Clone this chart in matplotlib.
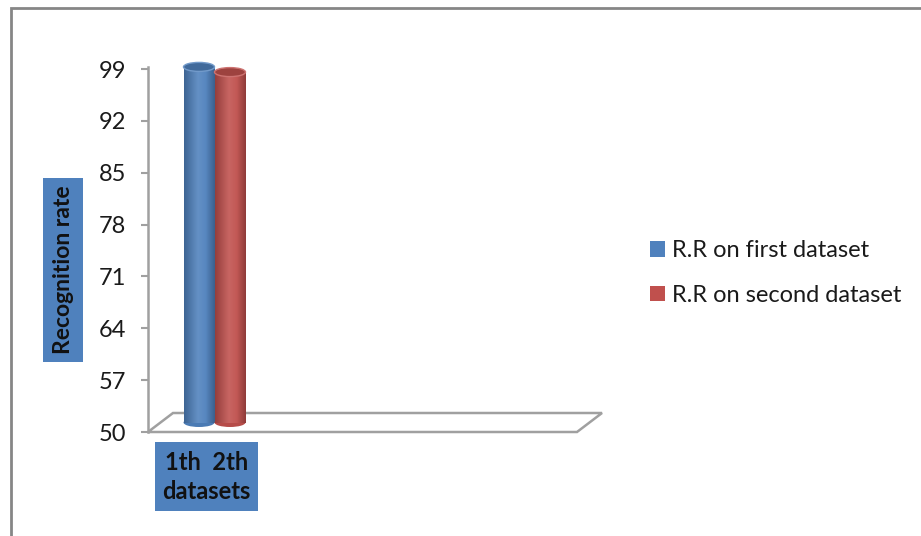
import numpy as np
import matplotlib
matplotlib.use("Agg")
import matplotlib.pyplot as plt
from matplotlib.patches import Rectangle, Ellipse, Polygon
from matplotlib import transforms
from matplotlib.colors import LinearSegmentedColormap

# ---- data ----
series_labels = ["R.R on first dataset", "R.R on second dataset"]
series_values = [98.0, 97.3]
series_colors = ["#4F81BD", "#C0504D"]
y_ticks = [50, 57, 64, 71, 78, 85, 92, 99]
x_title = "1th  2th\ndatasets"
y_title = "Recognition rate"

W, H = 921, 536
DPI = 100
plt.rcParams['font.family'] = ['Lato', 'DejaVu Sans']
fig = plt.figure(figsize=(W / DPI, H / DPI), dpi=DPI)

def fx(px):
    return px / W

def fy(py):
    return 1 - py / H

# outer chart frame
fig.patches.append(Rectangle((fx(11), fy(560)), fx(950) - fx(11), fy(8) - fy(560),
                             transform=fig.transFigure, fill=False,
                             edgecolor="#868686", linewidth=2.0))

# plot axes: x 148..577, y 69 (99) .. 432 (50)
ax_left, ax_right, ax_top, ax_bot = 148, 577, 69, 432
ax = fig.add_axes([fx(ax_left), fy(ax_bot), fx(ax_right) - fx(ax_left), fy(ax_top) - fy(ax_bot)])
ax.set_facecolor("none")
ax.set_ylim(50, 99)
ax.set_yticks(y_ticks)
ax.set_yticklabels([str(t) for t in y_ticks])
ax.tick_params(axis='y', length=5, width=1.5, color="#A0A0A0", pad=11,
               labelsize=17, labelcolor="#1a1a1a")
ax.tick_params(axis='x', bottom=False, labelbottom=False)
for s in ["top", "right", "bottom"]:
    ax.spines[s].set_visible(False)
ax.spines["left"].set_color("#A0A0A0")
ax.spines["left"].set_linewidth(1.8)
ax.spines["left"].set_bounds(50, 99.3)

ax_w_px = ax_right - ax_left
ax_h_px = ax_bot - ax_top
bar_w_px = 31.0
units_per_px_x = 1.0 / bar_w_px
x_pos = np.arange(len(series_values))
first_center_px = 38.5
ax.set_xlim(-first_center_px * units_per_px_x, (ax_w_px - first_center_px) * units_per_px_x)

# floor parallelogram (depth offset 25px, 19px)
dxf, dyf = 25 / ax_w_px, 19 / ax_h_px
floor = Polygon([(0, 0), (1, 0), (1 + dxf, dyf), (dxf, dyf)], closed=True,
                transform=ax.transAxes, fill=False, edgecolor="#A0A0A0",
                linewidth=1.8, clip_on=False, zorder=1)
ax.add_patch(floor)

# bars at middle depth
offset = transforms.ScaledTranslation(12.5 / DPI, 9.5 / DPI, fig.dpi_scale_trans)
tr = ax.transData + offset
ell_h = 9.0 * (99 - 50) / ax_h_px

def shade(color, f):
    c = np.array(matplotlib.colors.to_rgb(color))
    if f >= 0:
        return tuple(c + (1 - c) * f)
    return tuple(c * (1 + f))

bars = ax.bar(x_pos, np.array(series_values) - 50, bottom=50, width=1.0,
              color=series_colors, transform=tr, zorder=2, linewidth=0)
for i, (b, v, col) in enumerate(zip(bars, series_values, series_colors)):
    z = 3 + i * 0.1
    b.set_clip_on(False)
    cmap = LinearSegmentedColormap.from_list(
        "g", [(0, shade(col, -0.22)), (0.45, shade(col, 0.12)),
              (0.7, shade(col, 0.05)), (1, shade(col, -0.25))])
    grad = np.linspace(0, 1, 64).reshape(1, -1)
    be = Ellipse((x_pos[i], 50), 1.0, ell_h, transform=tr,
                 facecolor=shade(col, -0.05), edgecolor="none", zorder=z,
                 clip_on=False)
    ax.add_patch(be)
    im = ax.imshow(grad, cmap=cmap, aspect='auto',
                   extent=[x_pos[i] - 0.5, x_pos[i] + 0.5, 50, v],
                   zorder=z + 0.01, interpolation='bilinear')
    im.set_transform(tr)
    im.set_clip_path(b)
    im.set_clip_box(None)
    b.set_zorder(z - 0.05)
    te = Ellipse((x_pos[i], v), 1.0, ell_h, transform=tr,
                 facecolor=shade(col, -0.18), edgecolor=shade(col, 0.2),
                 linewidth=1.0, zorder=z + 0.02, clip_on=False)
    ax.add_patch(te)
ax.set_xlim(-first_center_px * units_per_px_x, (ax_w_px - first_center_px) * units_per_px_x)
ax.set_ylim(50, 99)

# y title box
fig.patches.append(Rectangle((fx(43), fy(362)), fx(83) - fx(43), fy(178) - fy(362),
                             transform=fig.transFigure, facecolor="#4F81BD",
                             edgecolor="none"))
fig.text(fx(63), fy(270), y_title, rotation=90, ha='center', va='center',
         fontsize=16.5, fontweight='bold', color="#111111")

# x title box
fig.patches.append(Rectangle((fx(155), fy(511)), fx(258) - fx(155), fy(442) - fy(511),
                             transform=fig.transFigure, facecolor="#4F81BD",
                             edgecolor="none"))
fig.text(fx(206.5), fy(477), x_title, ha='center', va='center',
         fontsize=17, fontweight='bold', color="#111111", linespacing=1.35)

# legend
handles = [Rectangle((0, 0), 1, 1, facecolor=c, edgecolor="none") for c in series_colors]
fig.legend(handles, series_labels, loc='center left',
           bbox_to_anchor=(fx(650), fy(273)), frameon=False, fontsize=17,
           handlelength=0.65, handleheight=0.65, handletextpad=0.3,
           labelspacing=1.0, borderpad=0, borderaxespad=0, labelcolor="#1a1a1a")

fig.savefig("out.png", dpi=DPI)
